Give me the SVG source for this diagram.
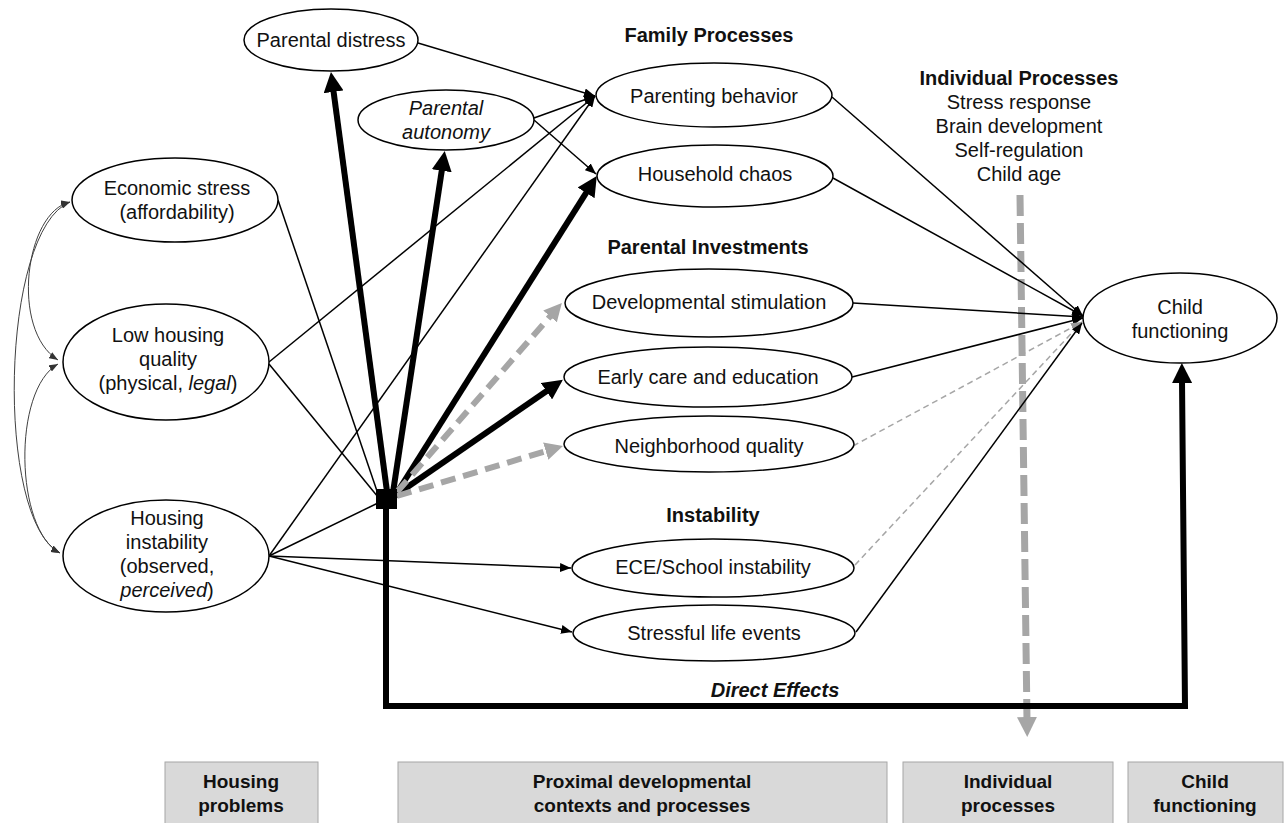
<svg xmlns="http://www.w3.org/2000/svg" width="1288" height="823" viewBox="0 0 1288 823">
<style>
text{font-family:"Liberation Sans",Arial,sans-serif;font-size:20px;fill:#111;text-anchor:middle}
.h{font-weight:bold}
.i{font-style:italic}
.box text{font-weight:bold;font-size:19px}
ellipse{fill:#fff;stroke:#000;stroke-width:1.5}
.thin{stroke:#000;stroke-width:1.5;fill:none}
.gthin{stroke:#a6a6a6;stroke-width:1.5;fill:none;stroke-dasharray:6 4}
.thick{stroke:#000;stroke-width:6;fill:none}
.gthick{stroke:#a6a6a6;stroke-width:6;fill:none;stroke-dasharray:15 8}
.curve{stroke:#404040;stroke-width:1;fill:none}
.box rect{fill:#d9d9d9;stroke:#a6a6a6;stroke-width:1}
</style>
<defs>
<marker id="aT" markerUnits="userSpaceOnUse" markerWidth="11" markerHeight="9" refX="11" refY="4.5" orient="auto"><path d="M0,0 L11,4.5 L0,9 z" fill="#000"/></marker>
<marker id="aG" markerUnits="userSpaceOnUse" markerWidth="11" markerHeight="9" refX="11" refY="4.5" orient="auto"><path d="M0,0 L11,4.5 L0,9 z" fill="#999"/></marker>
<marker id="aK" markerUnits="userSpaceOnUse" markerWidth="20" markerHeight="20" refX="3" refY="10" orient="auto"><path d="M0,0 L20,10 L0,20 z" fill="#000"/></marker>
<marker id="aKG" markerUnits="userSpaceOnUse" markerWidth="18" markerHeight="18" refX="3" refY="9" orient="auto"><path d="M0,0 L18,9 L0,18 z" fill="#a6a6a6"/></marker>
<marker id="aVG" markerUnits="userSpaceOnUse" markerWidth="20" markerHeight="20" refX="3" refY="10" orient="auto"><path d="M0,0 L20,10 L0,20 z" fill="#a6a6a6"/></marker>
<marker id="aS" markerUnits="userSpaceOnUse" markerWidth="9" markerHeight="7" refX="9" refY="3.5" orient="auto-start-reverse"><path d="M0,0 L9,3.5 L0,7 z" fill="#333"/></marker>
</defs>

<g id="connectors">
<!-- individual processes moderator -->
<line x1="1020" y1="195" x2="1027" y2="720" stroke="#a6a6a6" stroke-width="7" stroke-dasharray="21 7" marker-end="url(#aVG)"/>
<!-- left correlations -->
<path class="curve" d="M70,202 C25,212 10,330 58,360" marker-start="url(#aS)" marker-end="url(#aS)"/>
<path class="curve" d="M58,364 C12,390 15,530 60,553" marker-start="url(#aS)" marker-end="url(#aS)"/>
<path class="curve" d="M70,202 C0,230 -5,520 60,553" marker-start="url(#aS)" marker-end="url(#aS)"/>
<!-- thin paths -->
<line class="thin" x1="418" y1="43" x2="595" y2="96" marker-end="url(#aT)"/>
<line class="thin" x1="534" y1="118" x2="595" y2="96" marker-end="url(#aT)"/>
<line class="thin" x1="534" y1="120" x2="596" y2="174" marker-end="url(#aT)"/>
<line class="thin" x1="269" y1="362" x2="595" y2="96" marker-end="url(#aT)"/>
<line class="thin" x1="269" y1="556" x2="595" y2="96" marker-end="url(#aT)"/>
<line class="thin" x1="278" y1="200" x2="378" y2="494"/>
<line class="thin" x1="269" y1="364" x2="378" y2="497"/>
<line class="thin" x1="269" y1="556" x2="378" y2="503"/>
<line class="thin" x1="269" y1="556" x2="571" y2="568" marker-end="url(#aT)"/>
<line class="thin" x1="269" y1="556" x2="572" y2="632" marker-end="url(#aT)"/>
<!-- to child functioning -->
<line class="thin" x1="832" y1="97" x2="1083" y2="316" marker-end="url(#aT)"/>
<line class="thin" x1="833" y1="178" x2="1083" y2="316" marker-end="url(#aT)"/>
<line class="thin" x1="853" y1="303" x2="1083" y2="317" marker-end="url(#aT)"/>
<line class="thin" x1="852" y1="377" x2="1083" y2="318" marker-end="url(#aT)"/>
<line class="gthin" x1="853" y1="446" x2="1082" y2="322" marker-end="url(#aG)"/>
<line class="gthin" x1="855" y1="565" x2="1082" y2="322" marker-end="url(#aG)"/>
<line class="thin" x1="856" y1="632" x2="1082" y2="323" marker-end="url(#aT)"/>
<!-- thick paths from hub -->
<line class="thick" x1="388" y1="499" x2="333.2" y2="88.9" marker-end="url(#aK)"/>
<line class="thick" x1="392" y1="499" x2="442.2" y2="167.8" marker-end="url(#aK)"/>
<line class="thick" x1="393" y1="499" x2="587.7" y2="190.3" marker-end="url(#aK)"/>
<line class="thick" x1="393" y1="497" x2="548.9" y2="389.5" marker-end="url(#aK)"/>
<line class="gthick" x1="397" y1="492" x2="552" y2="314.2" marker-end="url(#aKG)"/>
<line class="gthick" x1="397" y1="496" x2="548.6" y2="450.3" marker-end="url(#aKG)"/>
<polyline class="thick" points="386,505 386,706 1185,706 1182,380" marker-end="url(#aK)"/>
<rect x="376" y="489" width="21" height="20" fill="#000"/>
</g>

<g id="n-distress"><ellipse cx="331" cy="40" rx="87" ry="31"/><text x="331" y="47">Parental distress</text></g>
<g id="n-autonomy"><ellipse cx="446" cy="120" rx="88" ry="30"/><text class="i" x="446" y="115">Parental</text><text class="i" x="446" y="139">autonomy</text></g>
<g id="lbl-family"><text class="h" x="709" y="42">Family Processes</text></g>
<g id="n-parenting"><ellipse cx="714" cy="95" rx="118" ry="32"/><text x="714" y="103">Parenting behavior</text></g>
<g id="n-chaos"><ellipse cx="715" cy="176" rx="118" ry="31"/><text x="715" y="181">Household chaos</text></g>
<g id="lbl-invest"><text class="h" x="708" y="254">Parental Investments</text></g>
<g id="n-stim"><ellipse cx="709" cy="303" rx="144" ry="34"/><text x="709" y="309">Developmental stimulation</text></g>
<g id="n-ece"><ellipse cx="708" cy="377" rx="144" ry="30"/><text x="708" y="384">Early care and education</text></g>
<g id="n-neigh"><ellipse cx="709" cy="444" rx="145" ry="28"/><text x="709" y="453">Neighborhood quality</text></g>
<g id="lbl-instab"><text class="h" x="713" y="522">Instability</text></g>
<g id="n-eceinst"><ellipse cx="713" cy="568" rx="141" ry="29"/><text x="713" y="574">ECE/School instability</text></g>
<g id="n-stress"><ellipse cx="714" cy="633" rx="141" ry="28"/><text x="714" y="640">Stressful life events</text></g>
<g id="n-child"><ellipse cx="1180" cy="318" rx="97" ry="45"/><text x="1180" y="314">Child</text><text x="1180" y="338">functioning</text></g>
<g id="n-econ"><ellipse cx="175" cy="200" rx="103" ry="42"/><text x="177" y="195">Economic stress</text><text x="177" y="219">(affordability)</text></g>
<g id="n-quality"><ellipse cx="166" cy="362" rx="103" ry="58"/><text x="168" y="342">Low housing</text><text x="168" y="366">quality</text><text x="168" y="390">(physical, <tspan class="i">legal</tspan>)</text></g>
<g id="n-instab"><ellipse cx="166" cy="556" rx="103" ry="56"/><text x="167" y="525">Housing</text><text x="167" y="549">instability</text><text x="167" y="573">(observed,</text><text x="167" y="597"><tspan class="i">perceived</tspan>)</text></g>
<g id="lbl-indiv"><text class="h" x="1019" y="85">Individual Processes</text><text x="1019" y="109">Stress response</text><text x="1019" y="133">Brain development</text><text x="1019" y="157">Self-regulation</text><text x="1019" y="181">Child age</text></g>
<g id="lbl-direct"><text class="h i" x="775" y="697">Direct Effects</text></g>

<g id="box-housing" class="box"><rect x="165" y="762" width="153" height="70"/><text x="241" y="788">Housing</text><text x="241" y="812">problems</text></g>
<g id="box-proximal" class="box"><rect x="398" y="762" width="489" height="70"/><text x="642" y="788">Proximal developmental</text><text x="642" y="812">contexts and processes</text></g>
<g id="box-indiv" class="box"><rect x="903" y="762" width="210" height="70"/><text x="1008" y="788">Individual</text><text x="1008" y="812">processes</text></g>
<g id="box-child" class="box"><rect x="1128" y="762" width="155" height="70"/><text x="1205" y="788">Child</text><text x="1205" y="812">functioning</text></g>
</svg>
